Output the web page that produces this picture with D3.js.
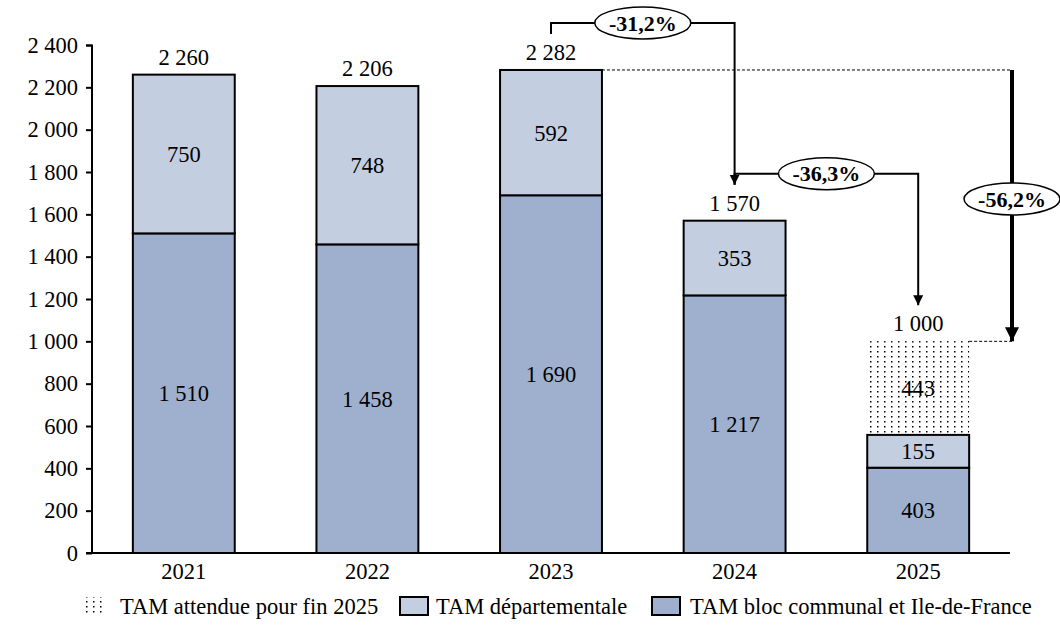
<!DOCTYPE html>
<html><head><meta charset="utf-8">
<script src="https://cdn.jsdelivr.net/npm/d3@7"></script>
<style>body{margin:0;background:#fff}svg{display:block}text{font-family:"Liberation Serif","DejaVu Serif",serif;fill:#000}</style>
</head><body><svg id="c" width="1060" height="632"></svg>
<script>
const years = ["2021","2022","2023","2024","2025"];
const blocCommunal = [1510,1458,1690,1217,403];
const departementale = [750,748,592,353,155];
const attendue = [0,0,0,0,443];
const totals = [2260,2206,2282,1570,1000];
const yTicks = [0,200,400,600,800,1000,1200,1400,1600,1800,2000,2200,2400];
const legendLabels = ["TAM attendue pour fin 2025","TAM départementale","TAM bloc communal et Ile-de-France"];
const variations = [{from:2,to:3,label:"-31,2%"},{from:3,to:4,label:"-36,3%"}];
const bigVariation = {from:2,to:4,label:"-56,2%"};

const colLight = "#c4cee1", colDark = "#9eb0ce";
const fs = 22.5;
const ff = '"Liberation Serif",serif';
const svg = d3.select("#c");
const loc = d3.formatLocale({decimal:",",thousands:"\u00a0",grouping:[3],currency:["","€"]});
const fmt = loc.format(",d");

const x = d3.scaleBand().domain(years).range([92,1010]).paddingInner(0.445).paddingOuter(0.2225);
const y = d3.scaleLinear().domain([0,2400]).range([553,45]);

const defs = svg.append("defs");
const pat = defs.append("pattern").attr("id","dots").attr("patternUnits","userSpaceOnUse").attr("width",7).attr("height",5);
pat.append("rect").attr("x",2).attr("y",1).attr("width",1.5).attr("height",1.5).attr("fill","#000");

// y axis
const ya = svg.append("g").attr("transform","translate(92,0)").call(d3.axisLeft(y).tickValues(yTicks).tickSize(6).tickPadding(8).tickFormat(fmt));
ya.attr("font-family",null).attr("font-size",null);
ya.selectAll("text").style("font-size",fs+"px").style("font-family",ff);
ya.selectAll("line,path").attr("stroke","#000").attr("stroke-width",2);
ya.select(".domain").attr("d","M-6,45.5H0V553");

// bars
const g = svg.append("g");
function lbl(xp,yp,t,dy){
  return g.append("text").attr("x",xp).attr("y",yp).attr("dy",dy||"0.35em").attr("text-anchor","middle").style("font-size",fs+"px").text(t);
}
years.forEach((yr,i)=>{
  const bx = x(yr), bw = x.bandwidth();
  const b0 = blocCommunal[i], d0 = departementale[i];
  if (attendue[i]>0){
    g.append("rect").attr("x",bx).attr("width",bw).attr("y",y(b0+d0+attendue[i])).attr("height",y(b0+d0)-y(b0+d0+attendue[i])).attr("fill","url(#dots)");
    lbl(bx+bw/2,(y(b0+d0)+y(b0+d0+attendue[i]))/2,fmt(attendue[i]));
  }
  g.append("rect").attr("x",bx).attr("width",bw).attr("y",y(b0)).attr("height",y(0)-y(b0)).attr("fill",colDark).attr("stroke","#000").attr("stroke-width",2);
  g.append("rect").attr("x",bx).attr("width",bw).attr("y",y(b0+d0)).attr("height",y(b0)-y(b0+d0)).attr("fill",colLight).attr("stroke","#000").attr("stroke-width",2);
  lbl(bx+bw/2,(y(0)+y(b0))/2,fmt(b0));
  lbl(bx+bw/2,(y(b0)+y(b0+d0))/2,fmt(d0));
  lbl(bx+bw/2,y(totals[i])-10,fmt(totals[i]),"0");
});

// x axis
const xa = svg.append("g").attr("transform","translate(0,553)").call(d3.axisBottom(x).tickSize(0).tickPadding(10));
xa.attr("font-family",null).attr("font-size",null);
xa.selectAll("text").style("font-size",fs+"px").style("font-family",ff);
xa.select(".domain").attr("stroke","#000").attr("stroke-width",2).attr("d","M86,0H1010");

// arrows
defs.append("marker").attr("id","ah").attr("viewBox","0 0 10 10").attr("refX",10).attr("refY",5).attr("markerWidth",10).attr("markerHeight",11).attr("markerUnits","userSpaceOnUse").attr("orient","auto")
  .append("path").attr("d","M0,0L10,5L0,10z").attr("fill","#000");
defs.append("marker").attr("id","ah2").attr("viewBox","0 0 10 10").attr("refX",10).attr("refY",5).attr("markerWidth",14).attr("markerHeight",14).attr("markerUnits","userSpaceOnUse").attr("orient","auto")
  .append("path").attr("d","M0,0L10,5L0,10z").attr("fill","#000");

const an = svg.append("g");
function ellipseLabel(cx,cy,label){
  an.append("ellipse").attr("cx",cx).attr("cy",cy).attr("rx",48).attr("ry",16).attr("fill","#fff").attr("stroke","#000").attr("stroke-width",1.5);
  an.append("text").attr("x",cx).attr("y",cy).attr("dy","0.35em").attr("text-anchor","middle").style("font-size","22px").style("font-weight","bold").text(label);
}
variations.forEach(v=>{
  const x1 = x(years[v.from])+x.bandwidth()/2, x2 = x(years[v.to])+x.bandwidth()/2;
  const ys = y(totals[v.from])-36, ye = y(totals[v.to])-36, yh = y(totals[v.from])-47;
  an.append("path").attr("d",`M${x1},${ys}V${yh}H${x2}V${ye}`).attr("fill","none").attr("stroke","#000").attr("stroke-width",2).attr("marker-end","url(#ah)");
  ellipseLabel((x1+x2)/2,yh,v.label);
});
// big arrow
const bxr = 1012;
const top2023 = y(totals[bigVariation.from]), top2025 = y(totals[bigVariation.to]);
an.append("path").attr("d",`M${x(years[2])+x.bandwidth()},${top2023}H${bxr}`).attr("stroke","#000").attr("stroke-width",1).attr("stroke-dasharray","3,2");
an.append("path").attr("d",`M${x(years[4])+x.bandwidth()},${top2025}H${bxr}`).attr("stroke","#000").attr("stroke-width",1).attr("stroke-dasharray","3,2");
an.append("path").attr("d",`M${bxr},${top2023}V${top2025}`).attr("stroke","#000").attr("stroke-width",4).attr("marker-end","url(#ah2)");
ellipseLabel(bxr,199,bigVariation.label);

// legend
const lg = svg.append("g");
const items = [{fill:"url(#dots)",stroke:"none",x:86,w:16,tx:120},{fill:colLight,stroke:"#000",x:400,w:28,tx:436},{fill:colDark,stroke:"#000",x:652,w:28,tx:690}];
items.forEach((it,i)=>{
  lg.append("rect").attr("x",it.x).attr("y",597).attr("width",it.w).attr("height",18).attr("fill",it.fill).attr("stroke",it.stroke).attr("stroke-width",2);
  lg.append("text").attr("x",it.tx).attr("y",606).attr("dy","0.35em").style("font-size",fs+"px").text(legendLabels[i]);
});
</script></body></html>
